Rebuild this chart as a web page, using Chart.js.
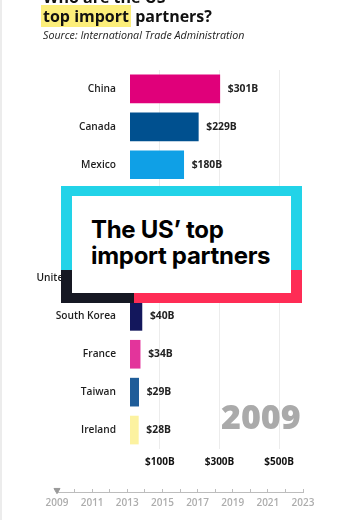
<!DOCTYPE html>
<html>
<head>
<meta charset="utf-8">
<script src="https://cdn.jsdelivr.net/npm/chart.js@4.4.1/dist/chart.umd.min.js"></script>
<style>
  html, body { margin: 0; padding: 0; background: #fff; overflow: hidden; }
  #wrap { position: relative; width: 363px; height: 520px; overflow: hidden; font-family: "Open Sans", sans-serif; }
  #wrap canvas { position: absolute; left: 0; }
  .edge { position: absolute; left: 0; top: 0; width: 2px; height: 520px; background: #ececec; }
  .title { position: absolute; left: 43px; font-size: 16px; font-weight: 700; color: #111; white-space: nowrap; line-height: 19px; }
  .hl { background: #fcee7a; padding: 0 2px; margin-left: -2px; }
  .source { position: absolute; left: 43px; top: 28px; font-size: 10.7px; font-style: italic; color: #222; white-space: nowrap; }
  .frame { position: absolute; left: 61px; top: 186px; width: 241px; height: 117px; background: #22d3e8; }
  .frame .dark { position: absolute; left: 0; top: 84px; width: 73px; height: 33px; background: #161823; }
  .frame .red { position: absolute; left: 73px; top: 84px; width: 168px; height: 33px; background: #fe2c55; }
  .frame .inner { position: absolute; left: 11px; top: 10px; width: 219px; height: 97px; background: #fff; }
  .frame .txt { position: absolute; left: 19px; top: 21px; font-family: Inter, sans-serif; font-weight: 700; font-size: 24px; line-height: 26px; color: #000; letter-spacing: -0.3px; white-space: nowrap; }
  .year { position: absolute; left: 221px; top: 393px; font-size: 34px; font-weight: 800; color: #aaaaaa; white-space: nowrap; }
</style>
</head>
<body>
<div id="wrap">
  <canvas id="barChart" width="363" height="520" style="top:0"></canvas>
  <canvas id="timeline" width="363" height="50" style="top:470px"></canvas>
  <div class="edge"></div>
  <div class="title" style="top:-12px">Who are the US</div>
  <div class="title" style="top:7px"><span class="hl">top import</span> partners?</div>
  <div class="source">Source: International Trade Administration</div>
  <div class="frame">
    <div class="dark"></div>
    <div class="red"></div>
    <div class="inner">
      <div class="txt">The US’ top<br>import partners</div>
    </div>
  </div>
  <div class="year" id="yearLabel">2009</div>
</div>
<script>
// 2009 imports, billions of dollars
const countries = ['China', 'Canada', 'Mexico', 'Japan', 'Germany', 'United Kingdom', 'South Korea', 'France', 'Taiwan', 'Ireland'];
const imports = [301, 229, 180, 96, 72, 48, 40, 34, 29, 28];
const barColors = ['#e0007a', '#00508f', '#0fa0e6', '#e51b24', '#4a4a4a', '#2b3f8c', '#13175c', '#e3349b', '#1f5d99', '#fcf2a0'];
const valueTicks = [100, 300, 500];
const years = [2009, 2023];
const currentYear = [2009];

// value labels at the end of each bar
const valueLabels = {
    id: 'valueLabels',
    afterDatasetsDraw(chart) {
        const ctx = chart.ctx;
        const meta = chart.getDatasetMeta(0);
        ctx.save();
        ctx.font = '700 10.3px "Open Sans"';
        ctx.fillStyle = '#222';
        ctx.textAlign = 'left';
        ctx.textBaseline = 'middle';
        meta.data.forEach((bar, i) => {
            ctx.fillText('$' + imports[i] + 'B', bar.x + 8, bar.y);
        });
        ctx.restore();
    }
};

var barChart = new Chart(document.getElementById('barChart').getContext('2d'), {
    type: 'bar',
    data: {
        labels: countries,
        datasets: [{
            data: imports,
            backgroundColor: barColors,
            barThickness: 28
        }]
    },
    options: {
        indexAxis: 'y',
        responsive: false,
        animation: false,
        layout: { padding: { top: 70, right: 54, bottom: 49, left: 0 } },
        plugins: { legend: { display: false }, tooltip: { enabled: false } },
        scales: {
            x: {
                min: 0,
                max: 600,
                afterBuildTicks: (scale) => { scale.ticks = valueTicks.map(v => ({ value: v })); },
                afterFit: (scale) => { scale.height = 22; },
                grid: { color: '#ececec', drawTicks: false },
                border: { display: false },
                ticks: {
                    padding: 7,
                    color: '#111',
                    font: { family: 'Open Sans', size: 10, weight: '700' },
                    callback: (v) => '$' + v + 'B'
                }
            },
            y: {
                afterFit: (scale) => { scale.width = 130; },
                grid: { display: false },
                border: { display: false },
                ticks: {
                    padding: 6,
                    color: '#1e1e1e',
                    font: { family: 'Open Sans', size: 10.2, weight: '600' }
                }
            }
        }
    },
    plugins: [valueLabels]
});

// year slider underneath
var timeline = new Chart(document.getElementById('timeline').getContext('2d'), {
    type: 'scatter',
    data: {
        datasets: [{
            data: currentYear.map(y => ({ x: y, y: 0.6 })),
            pointStyle: 'triangle',
            rotation: 180,
            radius: 3.5,
            backgroundColor: '#9a9a9a',
            borderColor: '#9a9a9a',
            clip: false
        }]
    },
    options: {
        responsive: false,
        animation: false,
        layout: { padding: { top: 19, right: 60, bottom: 0, left: 57 } },
        plugins: { legend: { display: false }, tooltip: { enabled: false } },
        scales: {
            y: { display: false, min: 0, max: 1 },
            x: {
                type: 'linear',
                min: years[0],
                max: years[1],
                afterFit: (scale) => { scale.height = 28; },
                grid: { color: '#bdbdbd', drawTicks: false, drawOnChartArea: true },
                border: { display: true, color: '#bdbdbd' },
                ticks: {
                    stepSize: 1,
                    autoSkip: false,
                    maxRotation: 0,
                    padding: 5,
                    color: '#adadad',
                    font: { family: 'Open Sans', size: 10, weight: '600' },
                    callback: (v) => (v % 2 === 1 ? String(v) : '')
                }
            }
        }
    }
});
</script>
</body>
</html>
